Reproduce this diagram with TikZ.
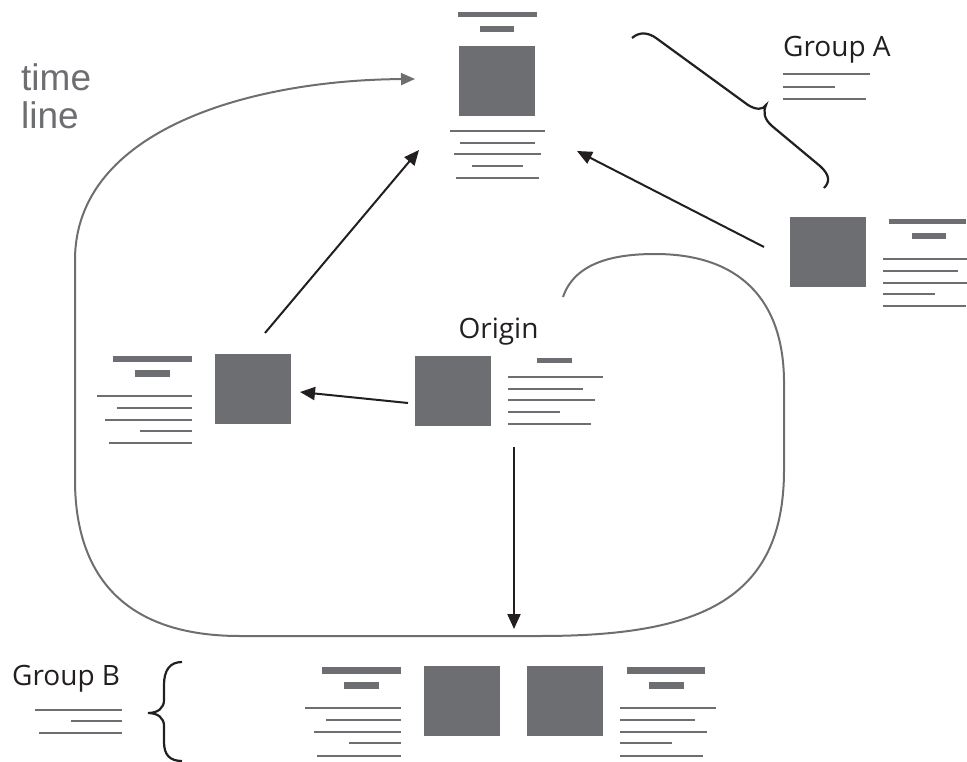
\documentclass[tikz,border=0pt]{standalone}
\usepackage{fontspec}
\setmainfont{Open Sans}
\newfontfamily\tlfont{Liberation Sans}
\usetikzlibrary{arrows.meta}
\definecolor{boxgray}{HTML}{6D6E71}
\definecolor{inkblack}{HTML}{231F20}
\tikzset{
  sq/.style={fill=boxgray, draw=none, minimum width=76pt, minimum height=70pt, inner sep=0pt, anchor=north west},
  tline/.style={draw=boxgray, line width=2pt},
  tbar/.style={fill=boxgray},
  conn/.style={draw=inkblack, line width=2pt, -{Triangle[length=15pt,width=13pt]}},
  loopline/.style={draw=boxgray, line width=2pt, -{Triangle[length=14pt,width=12pt]}},
  bracepath/.style={draw=inkblack, line width=2.2pt},
  lbl/.style={font=\fontsize{28}{34}\selectfont, text=inkblack, inner sep=0pt},
  tl/.style={font=\tlfont\fontsize{37}{38}\selectfont, text=boxgray, inner sep=0pt, align=left}
}
\begin{document}
\begin{tikzpicture}[x=1pt,y=-1pt]
\useasboundingbox (0,0) rectangle (967,762);

% ---------- top node ----------
\node[sq] (top) at (459,46) {};
\fill[tbar] (458,12) rectangle (537,17.5);
\fill[tbar] (480,26) rectangle (514,32);
\draw[tline] (450,130.7) -- (545,130.7);
\draw[tline] (460,142.7) -- (535,142.7);
\draw[tline] (454,154.3) -- (541,154.3);
\draw[tline] (472,166) -- (523,166);
\draw[tline] (456,178.3) -- (539,178.3);

% ---------- right node ----------
\node[sq] (right) at (790,217) {};
\fill[tbar] (889,219) rectangle (966,224.5);
\fill[tbar] (912,233.5) rectangle (946,239.5);
\draw[tline] (883,258.7) -- (967,258.7);
\draw[tline] (883,270.7) -- (958,270.7);
\draw[tline] (883,282.7) -- (967,282.7);
\draw[tline] (883,294.3) -- (935,294.3);
\draw[tline] (883,306) -- (966,306);

% ---------- left node ----------
\node[sq] (left) at (215,354) {};
\fill[tbar] (112.7,355.7) rectangle (191.7,362.3);
\fill[tbar] (135,370) rectangle (170,376.7);
\draw[tline] (96.7,396) -- (191.7,396);
\draw[tline] (117.3,408) -- (191.7,408);
\draw[tline] (105,419.7) -- (191.7,419.7);
\draw[tline] (140,431.3) -- (191.7,431.3);
\draw[tline] (109,443.3) -- (191.7,443.3);

% ---------- origin node ----------
\node[lbl, anchor=base] (originlbl) at (498.5,338) {Origin};
\node[sq] (origin) at (415,356) {};
\fill[tbar] (536.7,357.7) rectangle (571.7,363.3);
\draw[tline] (508.3,376.7) -- (603.3,376.7);
\draw[tline] (508.3,388.7) -- (582.7,388.7);
\draw[tline] (508.3,400) -- (595,400);
\draw[tline] (508.3,412) -- (560,412);
\draw[tline] (508.3,424.3) -- (591,424.3);

% ---------- bottom nodes ----------
\node[sq] (botl) at (424,665.7) {};
\fill[tbar] (321.7,667.3) rectangle (400.7,674);
\fill[tbar] (344,682.3) rectangle (378.7,689);
\draw[tline] (305,708.3) -- (400.7,708.3);
\draw[tline] (326,720) -- (400.7,720);
\draw[tline] (314,731.7) -- (400.7,731.7);
\draw[tline] (349,743.3) -- (400.7,743.3);
\draw[tline] (317.3,755.7) -- (400.7,755.7);

\node[sq] (botr) at (527,665.7) {};
\fill[tbar] (626.7,667.3) rectangle (705.3,674);
\fill[tbar] (649,682.3) rectangle (683.7,689);
\draw[tline] (620,708.3) -- (715.7,708.3);
\draw[tline] (620,720) -- (695,720);
\draw[tline] (620,731.7) -- (707,731.7);
\draw[tline] (620,743.3) -- (672,743.3);
\draw[tline] (620,755.7) -- (703.3,755.7);

% ---------- Group A ----------
\node[lbl, anchor=base west] (grpA) at (783,57) {Group A};
\draw[tline] (783,74.3) -- (870,74.3);
\draw[tline] (783,86.7) -- (835,86.7);
\draw[tline] (783,98.7) -- (866,98.7);
\draw[bracepath] (632,38) .. controls (640,31) and (649,33) .. (656,38)
  -- (748,105) .. controls (756,110) and (763,110) .. (766,105)
  .. controls (763,112) and (764,119) .. (772,126)
  -- (820,166) .. controls (830,175) and (830,182) .. (824,188);

% ---------- Group B ----------
\node[lbl, anchor=base west] (grpB) at (12,685) {Group B};
\draw[tline] (35,710) -- (121.7,710);
\draw[tline] (70.7,721) -- (121.7,721);
\draw[tline] (39.3,733.3) -- (121.7,733.3);
\draw[bracepath] (182,662) .. controls (170,662) and (164,670) .. (164,685)
  -- (164,700) .. controls (164,708) and (158,713) .. (148,713)
  .. controls (158,713) and (164,718) .. (164,726)
  -- (164,742) .. controls (164,755) and (170,761) .. (182,761);

% ---------- time line ----------
\node[tl, anchor=north west] (timelbl) at (21,63) {time\\line};
\coordinate (loopstart) at (563,297);
\coordinate (loopend) at (415,79);
\draw[loopline] (loopstart) .. controls (575,262) and (615,254) .. (655,254)
  .. controls (740,254) and (783,300) .. (784,380)
  -- (784,470) .. controls (784,600) and (700,636) .. (540,636)
  -- (240,636) .. controls (110,636) and (75,560) .. (75,480)
  -- (75,260) .. controls (75,130) and (250,80) .. (loopend);

% ---------- connectors ----------
\coordinate (rA) at (764,247);
\coordinate (tA) at (577,151);
\coordinate (lA) at (265,333);
\coordinate (tB) at (419,150);
\coordinate (oA) at (408,403);
\coordinate (lB) at (300,392);
\coordinate (oB) at (514,447);
\coordinate (bA) at (514,629);
\draw[conn] (rA) -- (tA);
\draw[conn] (lA) -- (tB);
\draw[conn] (oA) -- (lB);
\draw[conn] (oB) -- (bA);
\end{tikzpicture}
\end{document}
